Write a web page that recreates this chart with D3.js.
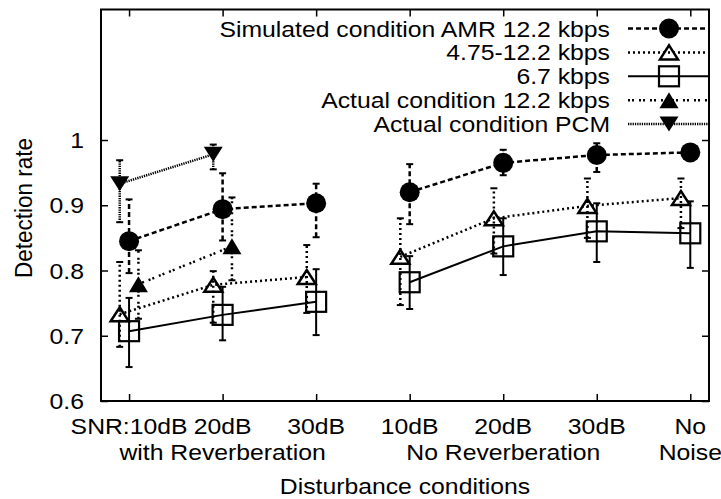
<!DOCTYPE html>
<html>
<head>
<meta charset="utf-8">
<script src="https://cdn.jsdelivr.net/npm/d3@7"></script>
<style>
  body { margin: 0; background: #fff; }
  svg text { font-family: "Liberation Sans", Arial, sans-serif; font-size: 22.5px; fill: #000; }
</style>
</head>
<body>
<div id="chart"></div>
<script>
// disturbance conditions (x = 1..7), two label rows
var categories = ["SNR:10dB", "20dB", "30dB", "10dB", "20dB", "30dB", "No"];
var subLabels  = ["", "with Reverberation", "", "", "No Reverberation", "", "Noise"];
var xPos  = [1, 2, 3, 4, 5, 6, 7];
var group = [0, 0, 0, 1, 1, 1, 1];   // lines break between reverb / no reverb

var yTicks = [0.6, 0.7, 0.8, 0.9, 1];

// Simulated condition AMR 12.2 kbps
var amrVal  = [0.845, 0.894, 0.903, 0.920, 0.965, 0.977, 0.981];
var amrLow  = [0.796, 0.846, 0.851, 0.871, 0.946, 0.951, 0.976];
var amrHigh = [0.909, 0.949, 0.933, 0.963, 0.985, 0.995, 0.986];

// 4.75-12.2 kbps
var multiVal  = [0.733, 0.778, 0.790, 0.821, 0.880, 0.899, 0.911];
var multiLow  = [0.683, 0.720, 0.735, 0.747, 0.826, 0.850, 0.865];
var multiHigh = [0.813, 0.799, 0.839, 0.880, 0.926, 0.941, 0.941];

// 6.7 kbps
var lowVal  = [0.707, 0.732, 0.752, 0.782, 0.837, 0.860, 0.857];
var lowLow  = [0.652, 0.693, 0.701, 0.741, 0.793, 0.813, 0.804];
var lowHigh = [0.758, 0.775, 0.802, 0.822, 0.880, 0.903, 0.906];

// Actual condition 12.2 kbps (only SNR 10dB / 20dB with reverb)
var actVal  = [0.779, 0.837];
var actLow  = [0.726, 0.785];
var actHigh = [0.831, 0.912];

// Actual condition PCM
var pcmVal  = [0.933, 0.978];
var pcmLow  = [0.874, 0.955];
var pcmHigh = [0.969, 0.993];

var legendNames = [
  "Simulated condition AMR 12.2 kbps",
  "4.75-12.2 kbps",
  "6.7 kbps",
  "Actual condition 12.2 kbps",
  "Actual condition PCM"
];

var W = 721, H = 499;
var plotL = 101, plotR = 709, plotT = 9.5, plotB = 401;
var sx = 1.1; // text in the original is slightly wide

var x = d3.scaleLinear().domain([0.7, 7.2]).range([plotL, plotR]);
var y = d3.scaleLinear().domain([0.6, 1.2]).range([plotB, plotT]);

var svg = d3.select("#chart").append("svg")
    .attr("width", W)
    .attr("height", H);

// marker paths centred on 0,0
var triUp = function(w, h) {
  return "M" + (-w/2) + "," + (h/2) + "L0," + (-h/2) + "L" + (w/2) + "," + (h/2) + "Z";
};
var triDown = function(w, h) {
  return "M" + (-w/2) + "," + (-h/2) + "L0," + (h/2) + "L" + (w/2) + "," + (-h/2) + "Z";
};

var series = [
  { val: amrVal, lo: amrLow, hi: amrHigh, xs: xPos, grp: group, off: 0,
    dash: "5,3", width: 2.5,
    mark: function(g) { g.append("circle").attr("r", 10).attr("fill", "#000"); } },
  { val: multiVal, lo: multiLow, hi: multiHigh, xs: xPos, grp: group, off: -0.1,
    dash: "2,3", width: 2.5,
    mark: function(g) { g.append("path").attr("d", triUp(18, 14)).attr("fill", "none")
      .attr("stroke", "#000").attr("stroke-width", 2.5).attr("stroke-linejoin", "miter"); } },
  { val: lowVal, lo: lowLow, hi: lowHigh, xs: xPos, grp: group, off: 0,
    dash: null, width: 2,
    mark: function(g) { g.append("rect").attr("x", -10).attr("y", -10).attr("width", 20).attr("height", 20)
      .attr("fill", "none").attr("stroke", "#000").attr("stroke-width", 2.2); } },
  { val: actVal, lo: actLow, hi: actHigh, xs: [1, 2], grp: [0, 0], off: 0.1,
    dash: "2,2,2,5", width: 2.5,
    mark: function(g) { g.append("path").attr("d", triUp(19, 16)).attr("fill", "#000"); } },
  { val: pcmVal, lo: pcmLow, hi: pcmHigh, xs: [1, 2], grp: [0, 0], off: -0.1,
    dash: "1.3,1", width: 2.5,
    mark: function(g) { g.append("path").attr("d", triDown(19, 15)).attr("fill", "#000"); } }
];

// axes: gnuplot style inward ticks on all four sides
var tickStyle = function(g) {
  g.select(".domain").remove();
  g.selectAll(".tick line").attr("stroke", "#000").attr("stroke-width", 1.5);
};
svg.append("g").attr("transform", "translate(0," + plotB + ")")
  .call(d3.axisBottom(x).tickValues(xPos).tickSize(-7).tickFormat(""))
  .call(tickStyle);
svg.append("g").attr("transform", "translate(0," + plotT + ")")
  .call(d3.axisTop(x).tickValues(xPos).tickSize(-7).tickFormat(""))
  .call(tickStyle);
svg.append("g").attr("transform", "translate(" + plotL + ",0)")
  .call(d3.axisLeft(y).tickValues(yTicks).tickSize(-7).tickFormat(""))
  .call(tickStyle);
svg.append("g").attr("transform", "translate(" + plotR + ",0)")
  .call(d3.axisRight(y).tickValues(yTicks).tickSize(-7).tickFormat(""))
  .call(tickStyle);

var addText = function(txt, tx, ty, anchor) {
  return svg.append("text")
    .attr("transform", "translate(" + tx + "," + ty + ") scale(" + sx + ",1)")
    .attr("text-anchor", anchor)
    .text(txt);
};

yTicks.forEach(function(v) {
  addText(d3.format("")(v), 84, y(v) + 8, "end");
});
categories.forEach(function(c, i) {
  addText(c, x(xPos[i]), 434, "middle");
  if (subLabels[i]) addText(subLabels[i], x(xPos[i]), 460, "middle");
});
addText("Disturbance conditions", (plotL + plotR) / 2, 494, "middle");
svg.append("text")
  .attr("transform", "translate(32," + 208 + ") rotate(-90) scale(1," + sx + ")")
  .attr("text-anchor", "middle")
  .text("Detection rate");

// series: line, error bars, markers
series.forEach(function(s) {
  var pts = s.val.map(function(v, i) {
    return { x: s.xs[i] + s.off, v: v, lo: s.lo[i], hi: s.hi[i], g: s.grp[i] };
  });
  var line = d3.line().x(function(d) { return x(d.x); }).y(function(d) { return y(d.v); });
  d3.groups(pts, function(d) { return d.g; }).forEach(function(gr) {
    svg.append("path")
      .attr("d", line(gr[1]))
      .attr("fill", "none")
      .attr("stroke", "#000")
      .attr("stroke-width", s.width)
      .attr("stroke-dasharray", s.dash);
  });

  var eb = svg.append("g").selectAll("g").data(pts).enter().append("g");
  eb.append("line")
    .attr("x1", function(d) { return x(d.x); })
    .attr("x2", function(d) { return x(d.x); })
    .attr("y1", function(d) { return y(d.lo); })
    .attr("y2", function(d) { return y(d.hi); })
    .attr("stroke", "#000")
    .attr("stroke-width", s.width)
    .attr("stroke-dasharray", s.dash);
  ["lo", "hi"].forEach(function(k) {
    eb.append("line")
      .attr("x1", function(d) { return x(d.x) - 3.5; })
      .attr("x2", function(d) { return x(d.x) + 3.5; })
      .attr("y1", function(d) { return y(d[k]); })
      .attr("y2", function(d) { return y(d[k]); })
      .attr("stroke", "#000")
      .attr("stroke-width", 2);
  });

  pts.forEach(function(d) {
    var g = svg.append("g").attr("transform", "translate(" + x(d.x) + "," + y(d.v) + ")");
    s.mark(g);
  });
});

// legend (top right, inside the frame)
legendNames.forEach(function(name, i) {
  var ly = 28.5 + i * 23.9;
  var s = series[i];
  addText(name, 610, ly + 8, "end");
  svg.append("line")
    .attr("x1", 628).attr("x2", plotR)
    .attr("y1", ly).attr("y2", ly)
    .attr("stroke", "#000")
    .attr("stroke-width", s.width)
    .attr("stroke-dasharray", s.dash);
  var g = svg.append("g").attr("transform", "translate(669," + ly + ")");
  s.mark(g);
});

// frame
svg.append("rect")
  .attr("x", plotL).attr("y", plotT)
  .attr("width", plotR - plotL).attr("height", plotB - plotT)
  .attr("fill", "none")
  .attr("stroke", "#000")
  .attr("stroke-width", 2);
</script>
</body>
</html>
